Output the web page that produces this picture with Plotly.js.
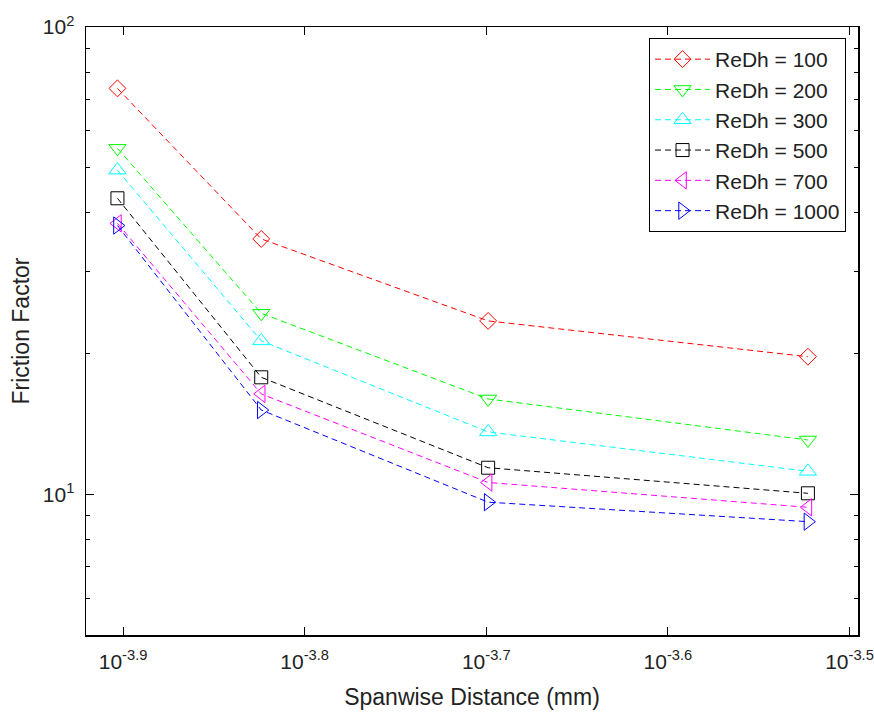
<!DOCTYPE html>
<html>
<head>
<meta charset="utf-8">
<script src="https://cdn.plot.ly/plotly-3.0.1.min.js"></script>
<style>html,body{margin:0;padding:0;background:#fff;}#chart{width:874px;height:713px;}</style>
</head>
<body>
<div id="chart"></div>
<script>
// Spanwise distance (mm)
const spanwise = [0.000125, 0.00015, 0.0002, 0.0003];
// Friction factor per Reynolds number
const seriesNames = ['ReDh = 100', 'ReDh = 200', 'ReDh = 300', 'ReDh = 500', 'ReDh = 700', 'ReDh = 1000'];
const re100  = [73.9, 35.2, 23.5, 19.7];
const re200  = [55.0, 24.4, 16.0, 13.07];
const re300  = [49.4, 21.3, 13.6, 11.2];
const re500  = [43.0, 17.8, 11.4, 10.05];
const re700  = [38.0, 16.4, 10.6, 9.38];
const re1000 = [37.6, 15.15, 9.62, 8.74];
const seriesValues = [re100, re200, re300, re500, re700, re1000];
const seriesColors = ['#ff0000', '#00ff00', '#00ffff', '#000000', '#ff00ff', '#0000ff'];
const seriesSymbols = ['diamond-open', 'triangle-down-open', 'triangle-up-open', 'square-open', 'triangle-left-open', 'triangle-right-open'];
const seriesSizes = [13, 15, 15, 13, 15, 15];

// Tick labels
const xTickExponents = ['-3.9', '-3.8', '-3.7', '-3.6', '-3.5'];
const yMajorTicks = [10, 100];
const yMajorLabels = ['10<sup>1</sup>', '10<sup>2</sup>'];
const yMinorTicks = [6, 7, 8, 9, 20, 30, 40, 50, 60, 70, 80, 90];

const FONT = 'Liberation Sans, Arial, sans-serif';

const traces = seriesNames.map((name, i) => ({
  type: 'scatter',
  mode: 'lines+markers',
  name: name,
  x: spanwise,
  y: seriesValues[i],
  line: {color: seriesColors[i], width: 1, dash: '6px,4px'},
  marker: {symbol: seriesSymbols[i], size: seriesSizes[i], color: seriesColors[i], line: {color: seriesColors[i], width: 1}}
}));

const layout = {
  width: 874,
  height: 713,
  margin: {l: 86, r: 16, t: 27, b: 78},
  paper_bgcolor: '#ffffff',
  plot_bgcolor: '#ffffff',
  font: {family: FONT, color: '#000000', size: 21},
  showlegend: true,
  legend: {
    x: 0.9845, y: 0.9819, xanchor: 'right', yanchor: 'top',
    bgcolor: '#ffffff', bordercolor: '#000000', borderwidth: 1,
    itemwidth: 55,
    font: {family: FONT, size: 21, color: '#222222'}
  },
  xaxis: {
    type: 'log',
    range: [-3.9204, -3.4953],
    tickmode: 'array',
    tickvals: xTickExponents.map(e => Math.pow(10, parseFloat(e))),
    ticktext: xTickExponents.map(e => '10<sup>' + e + '</sup>'),
    ticks: 'inside', ticklen: 8, tickwidth: 1, tickcolor: '#000000',
    showline: true, linecolor: '#000000', linewidth: 1.5, mirror: 'ticks',
    showgrid: false, zeroline: false,
    ticklabelstandoff: 7,
    tickfont: {family: FONT, size: 21, color: '#222222'},
    title: {text: 'Spanwise Distance (mm)', font: {family: FONT, size: 23, color: '#222222'}, standoff: 17}
  },
  yaxis: {
    type: 'log',
    range: [Math.log10(5), 2],
    tickmode: 'array',
    tickvals: yMajorTicks,
    ticktext: yMajorLabels,
    ticks: 'inside', ticklen: 8, tickwidth: 1, tickcolor: '#000000',
    minor: {tickmode: 'array', tickvals: yMinorTicks, ticks: 'inside', ticklen: 4, tickwidth: 1, tickcolor: '#000000', showgrid: false},
    showline: true, linecolor: '#000000', linewidth: 1.5, mirror: 'ticks',
    showgrid: false, zeroline: false,
    ticklabelstandoff: 6,
    tickfont: {family: FONT, size: 21, color: '#222222'},
    title: {text: 'Friction Factor', font: {family: FONT, size: 23, color: '#222222'}, standoff: 6}
  }
};

Plotly.newPlot('chart', traces, layout, {displayModeBar: false, staticPlot: true});
</script>
</body>
</html>
